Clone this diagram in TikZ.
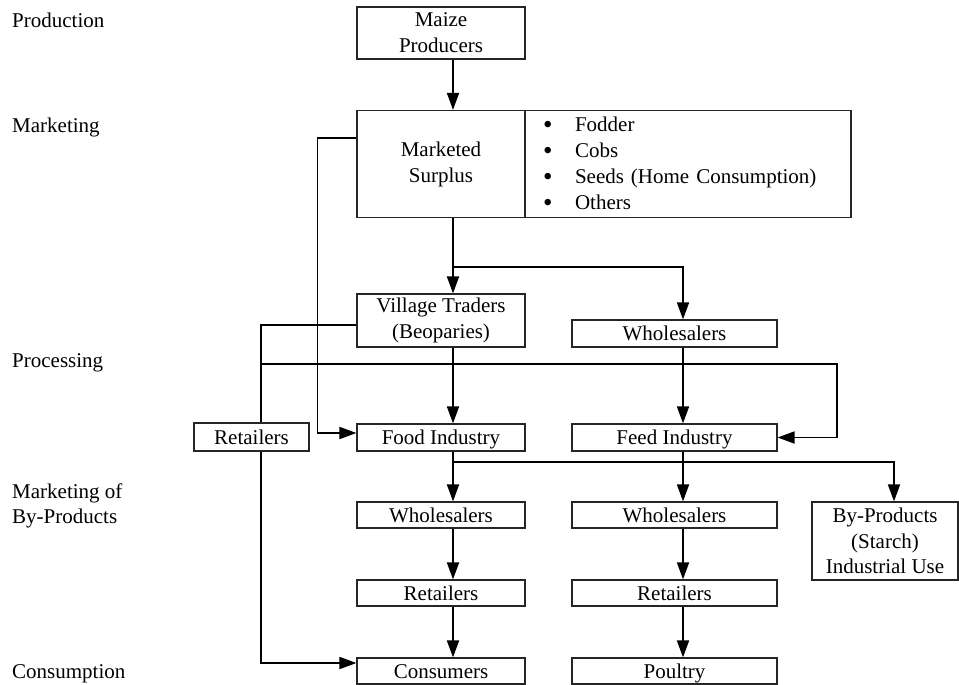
\documentclass[tikz,border=0pt]{standalone}
\usepackage{fontspec}
\setmainfont{Liberation Serif}
\usetikzlibrary{arrows.meta}
\newcommand{\listbullet}{\hspace*{13pt}\makebox[32pt][l]{\raisebox{-2.5pt}{\fontsize{27}{26}\selectfont\textbullet}}}
\begin{document}
\begin{tikzpicture}[x=1pt, y=-1pt, font=\fontsize{21}{26}\selectfont,
  box/.style={draw=black!85, line width=1.2pt, inner sep=0pt, align=center},
  lbox/.style={box, minimum width=168pt},
  rbox/.style={box, minimum width=205pt},
  oneline/.style={text height=14pt, text depth=0pt},
  arr/.style={line width=1.8pt, -{Triangle[length=17pt,width=12pt]}},
  link/.style={line width=1.8pt},
  stage/.style={anchor=base west, inner sep=0pt, align=left}]
\useasboundingbox (0,0) rectangle (959,685);

\node[stage] (production)  at (12,28)  {Production};
\node[stage] (marketing)   at (12,132) {Marketing};
\node[stage] (processing)  at (12,367) {Processing};
\node[stage, font=\fontsize{21}{25}\selectfont] (byproducts) at (12,523) {Marketing of\\By-Products};
\node[stage] (consumption) at (12,678) {Consumption};

\node[lbox, minimum height=52pt]  (maize)   at (441,33)    {Maize\\Producers};
\node[lbox, minimum height=107pt] (surplus) at (441,164) {Marketed\\Surplus};
\node[box, minimum width=326pt, minimum height=107pt, text width=316pt, align=left, inner xsep=5pt] (uses) at (688,164)
  {\listbullet Fodder\\
   \listbullet Cobs\\
   \listbullet Seeds (Home Consumption)\\
   \listbullet Others};
\node[lbox, minimum height=53pt]  (traders) at (441,320.5) {Village Traders\\(Beoparies)};
\node[rbox, oneline, minimum height=27pt]  (wsA)     at (674.5,333.5) {Wholesalers};
\node[box, oneline, minimum width=115pt, minimum height=28pt] (retA) at (251.5,437) {Retailers};
\node[lbox, oneline, minimum height=27pt]  (food)    at (441,437.5)   {Food Industry};
\node[rbox, oneline, minimum height=27pt]  (feed)    at (674.5,437.5) {Feed Industry};
\node[lbox, oneline, minimum height=26pt]  (wsB)     at (441,515)     {Wholesalers};
\node[rbox, oneline, minimum height=26pt]  (wsC)     at (674.5,515)   {Wholesalers};
\node[box, minimum width=146pt, minimum height=78pt, font=\fontsize{21}{25.5}\selectfont] (byprod) at (885,541) {By-Products\\(Starch)\\Industrial Use};
\node[lbox, oneline, minimum height=26pt]  (retB)    at (441,593)     {Retailers};
\node[rbox, oneline, minimum height=26pt]  (retC)    at (674.5,593)   {Retailers};
\node[lbox, oneline, minimum height=26pt]  (cons)    at (441,671)     {Consumers};
\node[rbox, oneline, minimum height=26pt]  (poultry) at (674.5,671)   {Poultry};

\coordinate (split1) at (453,267);
\coordinate (split2) at (261,364);
\coordinate (split3) at (453,462);

\draw[arr] ([xshift=12pt]maize.south) -- ([xshift=12pt]surplus.north);
\draw[arr] ([xshift=12pt]surplus.south) -- ([xshift=12pt]traders.north);
\draw[arr] (split1) -| ([xshift=8.5pt]wsA.north);
\draw[arr] ([yshift=26pt]surplus.west) -- ++(-39,0) |- ([yshift=4.5pt]food.west);
\draw[link] ([yshift=-4.5pt]traders.west) -| ([xshift=9.5pt]retA.north);
\draw[arr] (split2) -- ++(576,0) |- (feed.east);
\draw[arr] ([xshift=12pt]traders.south) -- ([xshift=12pt]food.north);
\draw[arr] ([xshift=8.5pt]wsA.south) -- ([xshift=8.5pt]feed.north);
\draw[arr] ([xshift=9.5pt]retA.south) |- ([yshift=8pt]cons.west);

\draw[arr] ([xshift=12pt]food.south) -- ([xshift=12pt]wsB.north);
\draw[arr] (split3) -| ([xshift=9pt]byprod.north);
\draw[arr] ([xshift=8.5pt]feed.south) -- ([xshift=8.5pt]wsC.north);
\draw[arr] ([xshift=12pt]wsB.south) -- ([xshift=12pt]retB.north);
\draw[arr] ([xshift=12pt]retB.south) -- ([xshift=12pt]cons.north);
\draw[arr] ([xshift=8.5pt]wsC.south) -- ([xshift=8.5pt]retC.north);
\draw[arr] ([xshift=8.5pt]retC.south) -- ([xshift=8.5pt]poultry.north);
\end{tikzpicture}
\end{document}
